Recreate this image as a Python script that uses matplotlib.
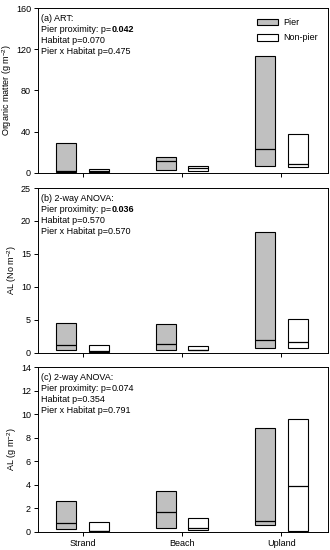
import numpy as np
import matplotlib.pyplot as plt
from matplotlib.patches import Patch

plt.rcParams['font.family'] = ['Liberation Sans', 'DejaVu Sans']
plt.rcParams['mathtext.default'] = 'regular'
plt.rcParams['font.size'] = 6.5

habitats = ['Strand', 'Beach', 'Upland']

# box statistics per habitat: (q1, median, q3)
om_pier = [(0.5, 1.5, 29.0), (2.3, 11.0, 14.9), (6.2, 23.0, 113.3)]
om_nonpier = [(0.3, 1.5, 3.2), (2.0, 4.2, 6.8), (5.5, 8.5, 37.5)]
aln_pier = [(0.45, 1.16, 4.45), (0.45, 1.3, 4.3), (0.75, 1.9, 18.3)]
aln_nonpier = [(0.1, 0.2, 1.1), (0.35, 0.45, 1.05), (0.75, 1.55, 5.05)]
alg_pier = [(0.25, 0.77, 2.64), (0.31, 1.68, 3.5), (0.57, 0.94, 8.8)]
alg_nonpier = [(0.03, 0.11, 0.8), (0.17, 0.34, 1.16), (0.06, 3.92, 9.57)]

panels = [
    dict(pier=om_pier, non=om_nonpier, ylim=160, step=40,
         ylabel='Organic matter (g m$^{-2}$)',
         head='(a) ART:', prox='0.042', prox_bold=True,
         hab='0.070', inter='0.475'),
    dict(pier=aln_pier, non=aln_nonpier, ylim=25, step=5,
         ylabel='AL (No m$^{-2}$)',
         head='(b) 2-way ANOVA:', prox='0.036', prox_bold=True,
         hab='0.570', inter='0.570'),
    dict(pier=alg_pier, non=alg_nonpier, ylim=14, step=2,
         ylabel='AL (g m$^{-2}$)',
         head='(c) 2-way ANOVA:', prox='0.074', prox_bold=False,
         hab='0.354', inter='0.791'),
]

gray = '#c0c0c0'
width = 0.2
off = 0.165
x = np.arange(len(habitats))

fig = plt.figure(figsize=(3.3, 5.5), dpi=100)
bottoms = [0.686, 0.359, 0.033]

for i, p in enumerate(panels):
    ax = fig.add_axes([0.115, bottoms[i], 0.879, 0.299])
    for xs, stats, fc in [(x - off, p['pier'], gray), (x + off, p['non'], 'white')]:
        q1 = np.array([s[0] for s in stats])
        med = np.array([s[1] for s in stats])
        q3 = np.array([s[2] for s in stats])
        ax.bar(xs, q3 - q1, width, bottom=q1, color=fc, edgecolor='black', linewidth=0.8)
        ax.hlines(med, xs - width / 2, xs + width / 2, color='black', linewidth=0.9)
    ax.set_xlim(-0.45, 2.47)
    ax.set_ylim(0, p['ylim'])
    ax.set_yticks(np.arange(0, p['ylim'] + 0.1, p['step']))
    ax.set_xticks(x)
    if i == 2:
        ax.set_xticklabels(habitats)
    else:
        ax.set_xticklabels([])
    ax.tick_params(direction='out', length=3, width=0.7, pad=2)
    ax.set_ylabel(p['ylabel'], labelpad=1.5)
    for sp in ax.spines.values():
        sp.set_linewidth(0.7)

    # stats annotation, one line at a time so the p-value can be bold
    t0 = ax.text(0.012, 0.965, p['head'], transform=ax.transAxes, va='top', ha='left')
    t1 = ax.annotate('Pier proximity: p=', xy=(0, 0), xycoords=t0, xytext=(0, -1.4),
                     textcoords='offset points', va='top', ha='left')
    ax.annotate(p['prox'], xy=(1, 0), xycoords=t1, va='bottom', ha='left',
                fontweight='bold' if p['prox_bold'] else 'normal')
    t2 = ax.annotate('Habitat p=' + p['hab'], xy=(0, 0), xycoords=t1, xytext=(0, -1.4),
                     textcoords='offset points', va='top', ha='left')
    ax.annotate('Pier x Habitat p=' + p['inter'], xy=(0, 0), xycoords=t2, xytext=(0, -1.4),
                textcoords='offset points', va='top', ha='left')

    if i == 0:
        handles = [Patch(facecolor=gray, edgecolor='black', linewidth=0.8, label='Pier'),
                   Patch(facecolor='white', edgecolor='black', linewidth=0.8, label='Non-pier')]
        ax.legend(handles=handles, loc='upper right', frameon=False, fontsize=6.5,
                  handlelength=2.3, handleheight=0.7, borderaxespad=0.7, labelspacing=0.7,
                  handletextpad=0.6)

fig.savefig('out.png', dpi=100)
